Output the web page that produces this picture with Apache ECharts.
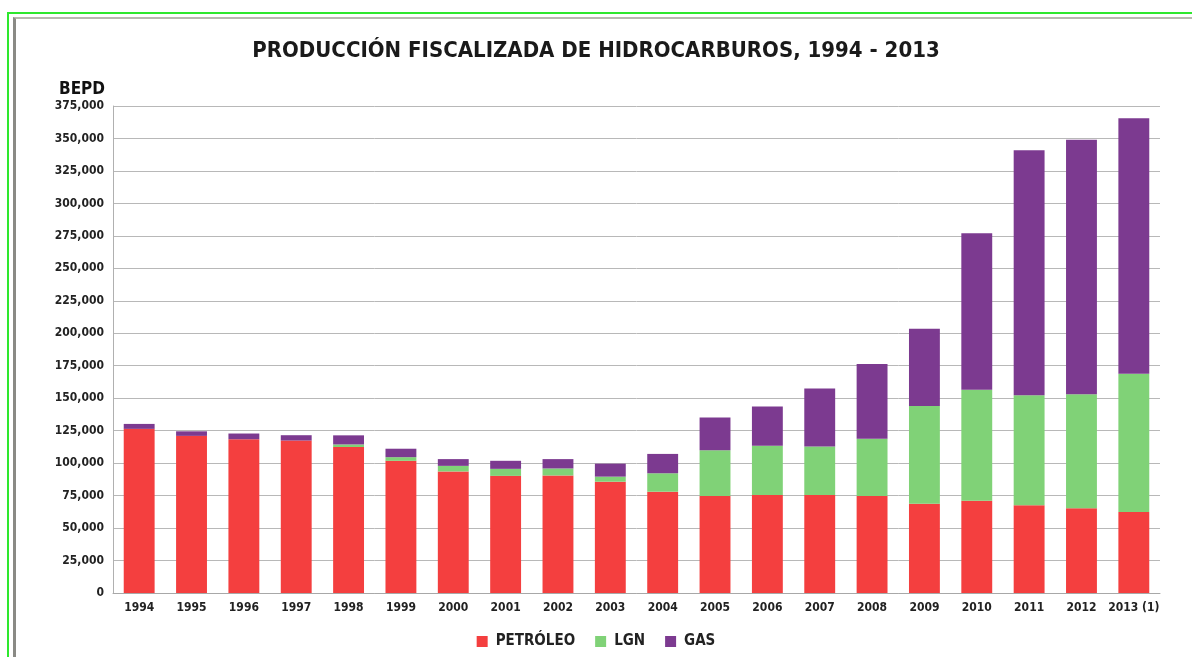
<!DOCTYPE html>
<html>
<head>
<meta charset="utf-8">
<script src="https://cdn.jsdelivr.net/npm/echarts@6/dist/echarts.min.js"></script>
<style>
  html, body { margin: 0; padding: 0; background: #fff; }
  #frame { position: absolute; left: 7px; top: 12px; width: 1185px; height: 645px;
    border-left: 2px solid #2ee82e; border-top: 2px solid #2ee82e; box-sizing: border-box; }
  #inner { position: absolute; left: 4px; top: 3px; right: 0; bottom: 0;
    border-left: 3px solid #8a8a85; border-top: 2px solid #b8b8b0; }
  #chart { position: absolute; left: 0; top: 0; width: 1192px; height: 657px; }
</style>
</head>
<body>
<div id="frame"><div id="inner"></div></div>
<div id="chart"></div>
<script>
// años
const years = ['1994', '1995', '1996', '1997', '1998', '1999', '2000', '2001', '2002', '2003',
  '2004', '2005', '2006', '2007', '2008', '2009', '2010', '2011', '2012', '2013 (1)'];
// BEPD
const petroleo = [126400, 121000, 118400, 117400, 112400, 101800, 93600, 90200, 90500, 85700,
  78000, 74700, 75500, 75500, 74700, 68800, 71100, 67500, 65200, 62400];
const lgn = [0, 0, 0, 0, 2000, 2800, 4300, 5400, 5400, 3900,
  14200, 35300, 37800, 37300, 44000, 75200, 85500, 84700, 87800, 106500];
const gas = [3800, 3500, 4400, 4100, 7000, 6500, 5200, 6200, 7200, 10000,
  14900, 25200, 30400, 44600, 57700, 59500, 120400, 188700, 196100, 196600];

const FONT = '"Liberation Sans Narrow", "DejaVu Sans Condensed", "Noto Sans", sans-serif';
const colors = { petroleo: '#f43f3f', lgn: '#80d277', gas: '#7c3a90' };

const chart = echarts.init(document.getElementById('chart'));

const bar = (name, data, color) => ({
  name, type: 'bar', stack: 'total', data, barWidth: '59%',
  itemStyle: { color }, emphasis: { disabled: true }
});

chart.setOption({
  animation: false,
  title: {
    text: 'PRODUCCIÓN FISCALIZADA DE HIDROCARBUROS, 1994 - 2013',
    left: 'center', top: 35,
    textStyle: { fontFamily: FONT, fontSize: 22, fontWeight: 'bold', color: '#1a1a1a' }
  },
  legend: {
    bottom: 3, left: 'center', itemWidth: 11, itemHeight: 11, itemGap: 20,
    icon: 'rect',
    textStyle: { fontFamily: FONT, fontSize: 15, fontWeight: 'bold', color: '#222', padding: [0, 0, 0, 3] },
    data: ['PETRÓLEO', 'LGN', 'GAS']
  },
  grid: { left: 113, right: 32, top: 106, bottom: 64, containLabel: false },
  xAxis: {
    type: 'category', data: years,
    axisLine: { lineStyle: { color: '#a8a8a8', width: 1 } },
    axisTick: { show: false },
    axisLabel: { fontFamily: FONT, fontSize: 12, fontWeight: 'bold', color: '#222', margin: 9, interval: 0 }
  },
  yAxis: {
    type: 'value', min: 0, max: 375000, interval: 25000,
    name: 'BEPD', nameLocation: 'end', nameGap: 8,
    nameTextStyle: { fontFamily: FONT, fontSize: 17, fontWeight: 'bold', color: '#111', align: 'right', padding: [0, 8, 0, 0] },
    axisLine: { show: true, lineStyle: { color: '#b0b0b0' } },
    axisTick: { show: false },
    splitLine: { lineStyle: { color: '#b8b8b8', width: 1 } },
    axisLabel: {
      fontFamily: FONT, fontSize: 12, fontWeight: 'bold', color: '#222', margin: 9,
      formatter: v => v.toLocaleString('en-US')
    }
  },
  series: [
    bar('PETRÓLEO', petroleo, colors.petroleo),
    bar('LGN', lgn, colors.lgn),
    bar('GAS', gas, colors.gas)
  ]
});
</script>
</body>
</html>
